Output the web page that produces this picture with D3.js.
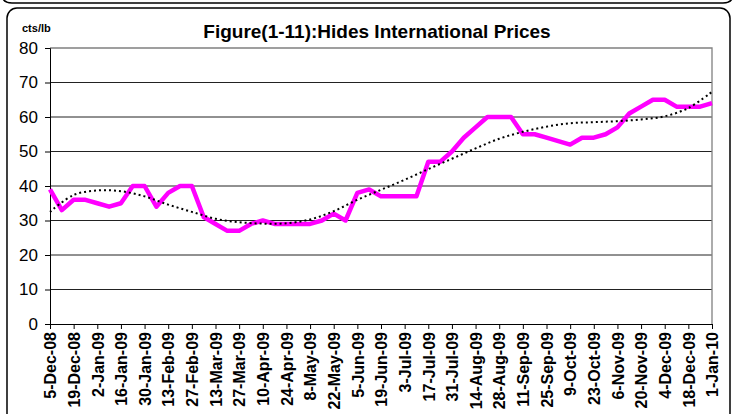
<!DOCTYPE html>
<html>
  <head>
    <style>
      body { margin: 0; background: #fff; }
      svg { font-family: "Liberation Sans", Arial, sans-serif; }
      .title { font-size: 19px; font-weight: bold; text-anchor: middle; }
      .unit { font-size: 11px; font-weight: bold; }
      .y-axis text { font-size: 17px; }
      .x-axis text { font-size: 16px; font-weight: bold; }
      .grid line { stroke: #222; stroke-width: 1; }
    </style>
  </head>
  <body>
    <div id="chart"></div>
    <script src="https://d3js.org/d3.v7.min.js"></script>
    <script>
      // weekly observations
      const weeks = [
        "5-Dec-08", "12-Dec-08", "19-Dec-08", "26-Dec-08", "2-Jan-09", "9-Jan-09",
        "16-Jan-09", "23-Jan-09", "30-Jan-09", "6-Feb-09", "13-Feb-09", "20-Feb-09",
        "27-Feb-09", "6-Mar-09", "13-Mar-09", "20-Mar-09", "27-Mar-09", "3-Apr-09",
        "10-Apr-09", "17-Apr-09", "24-Apr-09", "1-May-09", "8-May-09", "15-May-09",
        "22-May-09", "29-May-09", "5-Jun-09", "12-Jun-09", "19-Jun-09", "26-Jun-09",
        "3-Jul-09", "10-Jul-09", "17-Jul-09", "24-Jul-09", "31-Jul-09", "7-Aug-09",
        "14-Aug-09", "21-Aug-09", "28-Aug-09", "4-Sep-09", "11-Sep-09", "18-Sep-09",
        "25-Sep-09", "2-Oct-09", "9-Oct-09", "16-Oct-09", "23-Oct-09", "30-Oct-09",
        "6-Nov-09", "13-Nov-09", "20-Nov-09", "27-Nov-09", "4-Dec-09", "11-Dec-09",
        "18-Dec-09", "25-Dec-09", "1-Jan-10"
      ];
      const prices = [
        39, 33, 36, 36, 35, 34, 35, 40, 40, 34, 38, 40, 40, 31, 29, 27, 27, 29, 30,
        29, 29, 29, 29, 30, 32, 30, 38, 39, 37, 37, 37, 37, 47, 47, 50, 54, 57, 60,
        60, 60, 55, 55, 54, 53, 52, 54, 54, 55, 57, 61, 63, 65, 65, 63, 63, 63, 64
      ];
      // dotted trend line, read at every labelled week
      const trend = [
        32.5, 37.4, 38.7, 38.5, 37, 34.6, 32.5, 30.5, 29.5, 29.1, 29.2, 30.3, 32.7,
        36, 38.9, 41.8, 44.9, 47.9, 50.9, 53.7, 55.7, 57.2, 58.2, 58.5, 58.8, 59.3,
        60.2, 62.6, 67.3
      ];
      const labelWeeks = weeks.filter((d, i) => i % 2 === 0);
      const yTicks = [0, 10, 20, 30, 40, 50, 60, 70, 80];

      const W = 735, H = 414;
      const margin = { top: 48, right: 23, bottom: 90, left: 50 };
      const width = W - margin.left - margin.right;
      const height = H - margin.top - margin.bottom;

      const svg = d3.select("#chart").append("svg")
        .attr("width", W).attr("height", H);

      // outer frames
      svg.append("path")
        .attr("d", "M2,-6 Q2,3 12,3 L723,3 Q733,3 733,-6")
        .attr("fill", "none").attr("stroke", "#000").attr("stroke-width", 1.5);
      svg.append("rect")
        .attr("x", 7).attr("y", 8).attr("width", 723).attr("height", 420)
        .attr("rx", 10).attr("fill", "none")
        .attr("stroke", "#000").attr("stroke-width", 1.5);

      const g = svg.append("g")
        .attr("transform", "translate(" + margin.left + "," + margin.top + ")");

      const x = d3.scalePoint().domain(weeks).range([0, width]);
      const y = d3.scaleLinear().domain([0, 80]).range([height, 0]);

      // grid
      g.append("g").attr("class", "grid")
        .selectAll("line").data(yTicks.slice(1, -1)).enter().append("line")
        .attr("x1", 0).attr("x2", width)
        .attr("y1", (d) => y(d)).attr("y2", (d) => y(d));

      // plot border (top and right)
      g.append("path")
        .attr("d", "M0," + y(80) + "H" + width + "V" + height)
        .attr("fill", "none").attr("stroke", "#808080").attr("stroke-width", 1.3);

      const yAxis = g.append("g").attr("class", "y-axis")
        .call(d3.axisLeft(y).tickValues(yTicks).tickSize(5).tickPadding(7));
      yAxis.select(".domain").attr("stroke", "#000");

      const xAxis = g.append("g").attr("class", "x-axis")
        .attr("transform", "translate(0," + height + ")")
        .call(d3.axisBottom(x).tickValues(labelWeeks).tickSize(5).tickSizeOuter(0));
      xAxis.selectAll("text")
        .attr("transform", "rotate(-90)")
        .attr("x", -8).attr("y", 0).attr("dy", "0.36em")
        .style("text-anchor", "end");

      // price line
      g.append("path")
        .datum(prices)
        .attr("fill", "none")
        .attr("stroke", "#ff00ff")
        .attr("stroke-width", 4.5)
        .attr("stroke-linejoin", "round")
        .attr("d", d3.line().x((d, i) => x(weeks[i])).y((d) => y(d)));

      // trend
      g.append("path")
        .datum(trend)
        .attr("fill", "none")
        .attr("stroke", "#000")
        .attr("stroke-width", 2)
        .attr("stroke-dasharray", "2,3")
        .attr("d", d3.line().curve(d3.curveCatmullRom)
          .x((d, i) => x(labelWeeks[i])).y((d) => y(d)));

      svg.append("text").attr("class", "title")
        .attr("x", 377).attr("y", 38)
        .text("Figure(1-11):Hides International Prices");
      svg.append("text").attr("class", "unit")
        .attr("x", 22).attr("y", 32).text("cts/lb");
    </script>
  </body>
</html>
